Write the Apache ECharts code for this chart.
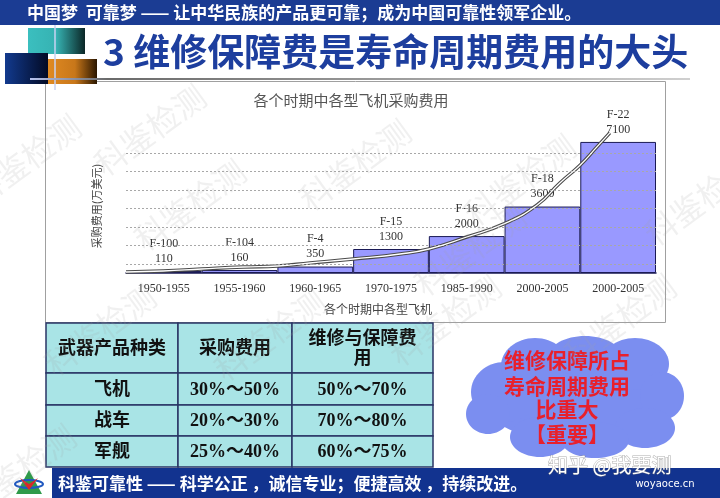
<!DOCTYPE html>
<html>
<head>
<meta charset="utf-8">
<script src="https://cdn.jsdelivr.net/npm/echarts@6/dist/echarts.min.js"></script>
<style>
  html, body { margin: 0; padding: 0; background: #fff; }
  #main { width: 720px; height: 498px; }
</style>
</head>
<body>
<div id="main"></div>
<script>
// 各个时期中各型飞机采购费用
const periods = ['1950-1955', '1955-1960', '1960-1965', '1970-1975', '1985-1990', '2000-2005', '2000-2005']
const models = ['F-100', 'F-104', 'F-4', 'F-15', 'F-16', 'F-18', 'F-22']
const costs = [110, 160, 350, 1300, 2000, 3600, 7100]
// 趋势线 (x 以类目宽度为单位)
const trendX = [0, 0.49, 1.0, 1.55, 2.0, 2.43, 3.0, 3.62, 4.0, 4.5, 4.99, 5.43, 5.73, 6.0, 6.22, 6.39]
const trendY = [54, 108, 217, 325, 380, 542, 759, 1030, 1300, 1950, 2656, 3686, 4878, 5854, 6829, 7588]
const gridValues = [500, 1500, 2500, 3500, 4500, 5500, 6500]

// 表格
const tableHeader = ['武器产品种类', '采购费用', '维修与保障费\n用']
const tableRows = [
  ['飞机', '30%～50%', '50%～70%'],
  ['战车', '20%～30%', '70%～80%'],
  ['军舰', '25%～40%', '60%～75%']
]
const cloudLines = ['维修保障所占', '寿命周期费用', '比重大', '【重要】']

const chart = echarts.init(document.getElementById('main'))

const cjk = '"Noto Sans CJK SC", sans-serif'
const serif = '"Liberation Serif", "Noto Sans CJK SC", serif'

// ---- 页面装饰 ----
const graphics = []

// 顶部横幅
graphics.push({
  type: 'rect', shape: { x: 0, y: 0, width: 720, height: 25 },
  style: { fill: '#1b3c93' }, z: 1
})
graphics.push({
  type: 'text', x: 27, y: 13,
  style: {
    text: '中国梦  可靠梦 —— 让中华民族的产品更可靠；成为中国可靠性领军企业。',
    fill: '#fff', font: 'bold 17px ' + cjk, verticalAlign: 'middle'
  }, z: 2
})

// 左上角方块
graphics.push({
  type: 'rect', shape: { x: 28, y: 28, width: 57, height: 26 },
  style: {
    fill: new echarts.graphic.LinearGradient(0, 0, 1, 0, [
      { offset: 0, color: '#3bbfbf' }, { offset: 0.5, color: '#36b2b2' }, { offset: 1, color: '#0b2626' }
    ])
  }, z: 1
})
graphics.push({
  type: 'rect', shape: { x: 48, y: 59, width: 49, height: 25 },
  style: {
    fill: new echarts.graphic.LinearGradient(0, 0, 1, 0, [
      { offset: 0, color: '#e08a22' }, { offset: 0.55, color: '#c8771a' }, { offset: 1, color: '#2a1600' }
    ])
  }, z: 1
})
graphics.push({
  type: 'rect', shape: { x: 5, y: 53, width: 43, height: 31 },
  style: {
    fill: new echarts.graphic.LinearGradient(0, 0, 1, 0, [
      { offset: 0, color: '#123a8e' }, { offset: 1, color: '#020a24' }
    ])
  }, z: 2
})
graphics.push({
  type: 'line', shape: { x1: 55, y1: 25, x2: 55, y2: 90 },
  style: { stroke: '#c9d2f2', lineWidth: 1.5 }, z: 3
})
graphics.push({
  type: 'line', shape: { x1: 30, y1: 79, x2: 690, y2: 79 },
  style: {
    stroke: new echarts.graphic.LinearGradient(0, 0, 1, 0, [
      { offset: 0, color: '#b8c4f0' }, { offset: 0.12, color: '#6a6a6a' }, { offset: 1, color: '#d0d0d0' }
    ]),
    lineWidth: 2
  }, z: 3
})

// 标题
graphics.push({
  type: 'text', x: 103, y: 52,
  style: {
    text: '3 维修保障费是寿命周期费用的大头',
    fill: '#1d3e9e', font: 'bold 37px ' + cjk, verticalAlign: 'middle'
  }, z: 2
})

// 图表框
graphics.push({
  type: 'rect', shape: { x: 45.5, y: 81.5, width: 620, height: 241 },
  style: { fill: '#fff', stroke: '#a0a0a0', lineWidth: 1 }, z: -10
})
graphics.push({
  type: 'text', x: 351, y: 100,
  style: { text: '各个时期中各型飞机采购费用', fill: '#555', font: '15px ' + cjk, align: 'center', verticalAlign: 'middle' }
})
graphics.push({
  type: 'text', x: 97, y: 206, rotation: Math.PI / 2,
  style: { text: '采购费用(万美元)', fill: '#444', font: '11px ' + cjk, align: 'center', verticalAlign: 'middle' }
})
graphics.push({
  type: 'text', x: 378, y: 309,
  style: { text: '各个时期中各型飞机', fill: '#444', font: '12px ' + cjk, align: 'center', verticalAlign: 'middle' }
})

// 表格
const colX = [46, 178, 292, 433]
const rowY = [323, 373, 405, 436, 467]
const allRows = [tableHeader].concat(tableRows)
allRows.forEach((row, r) => {
  row.forEach((cell, c) => {
    graphics.push({
      type: 'rect',
      shape: { x: colX[c], y: rowY[r], width: colX[c + 1] - colX[c], height: rowY[r + 1] - rowY[r] },
      style: { fill: '#a9e4e6', stroke: '#2a3566', lineWidth: 1.5 }, z: 5
    })
    graphics.push({
      type: 'text',
      x: (colX[c] + colX[c + 1]) / 2,
      y: (rowY[r] + rowY[r + 1]) / 2 + 1,
      style: {
        text: cell, fill: '#111', font: 'bold 18px ' + serif,
        align: 'center', verticalAlign: 'middle', lineHeight: 20
      }, z: 6
    })
  })
})

// 云朵
const cloudColor = '#7b8ef0'
const puffs = [
  [575, 400, 92, 42],
  [505, 392, 34, 30], [535, 366, 34, 28], [585, 356, 36, 20], [635, 364, 34, 26],
  [662, 396, 22, 24], [645, 428, 30, 20], [595, 440, 34, 18], [540, 437, 30, 20],
  [488, 414, 22, 20]
]
puffs.forEach(p => {
  graphics.push({
    type: 'ellipse', shape: { cx: p[0], cy: p[1], rx: p[2], ry: p[3] },
    style: { fill: cloudColor }, z: 5
  })
})
cloudLines.forEach((t, i) => {
  graphics.push({
    type: 'text', x: 567, y: [360, 386, 409, 434][i],
    style: { text: t, fill: '#e8202c', font: 'bold 21px ' + cjk, align: 'center', verticalAlign: 'middle' },
    z: 7
  })
})

// 底部横幅
graphics.push({
  type: 'rect', shape: { x: 52, y: 468, width: 668, height: 30 },
  style: { fill: '#12338f' }, z: 8
})
graphics.push({
  type: 'text', x: 58, y: 484,
  style: {
    text: '科鉴可靠性 —— 科学公正 ，诚信专业；便捷高效 ，持续改进。',
    fill: '#fff', font: 'bold 17px ' + cjk, verticalAlign: 'middle'
  }, z: 9
})
// 徽标
graphics.push({ type: 'polygon', shape: { points: [[16, 494], [29, 470], [42, 494]] }, style: { fill: '#2f9a4a' }, z: 9 })
graphics.push({ type: 'ellipse', shape: { cx: 29, cy: 484, rx: 14, ry: 4 }, style: { fill: 'none', stroke: '#2058c0', lineWidth: 2 }, z: 9 })
graphics.push({ type: 'polygon', shape: { points: [[20, 478], [29, 484], [38, 478], [29, 490]] }, style: { fill: '#d8282c' }, z: 10 })

// 知乎水印
graphics.push({
  type: 'text', x: 548, y: 465,
  style: { text: '知乎 @我要测', fill: '#fff', font: '20px ' + cjk, verticalAlign: 'middle', stroke: 'rgba(120,120,120,0.6)', lineWidth: 1 },
  z: 12
})
graphics.push({
  type: 'text', x: 665, y: 484,
  style: { text: 'woyaoce.cn', fill: '#fff', font: '10px "DejaVu Sans", sans-serif', align: 'center', verticalAlign: 'middle' },
  z: 12
})

// 科鉴检测 水印
const marks = [[25, 160], [190, 205], [355, 165], [520, 180], [700, 200], [100, 330], [270, 335], [445, 320], [620, 320], [20, 470], [470, 250], [150, 130]]
marks.forEach(m => {
  graphics.push({
    type: 'text', x: m[0], y: m[1], rotation: Math.PI / 5,
    style: { text: '科鉴检测', fill: 'rgba(160,160,160,0.16)', font: '32px ' + cjk, align: 'center', verticalAlign: 'middle' },
    z: 20
  })
})

const option = {
  animation: false,
  graphic: { elements: graphics },
  grid: { left: 126, right: 64, top: 105, bottom: 225 },
  xAxis: [
    {
      type: 'category',
      data: periods,
      axisLine: { lineStyle: { color: '#1a1a55', width: 1.5 } },
      axisTick: { show: false },
      axisLabel: { color: '#333', fontFamily: 'Liberation Serif', fontSize: 12, margin: 10, interval: 0 }
    },
    { type: 'value', min: 0, max: 7, show: false }
  ],
  yAxis: {
    type: 'value', min: 0, max: 9100,
    show: false,
    splitLine: { show: false }
  },
  series: [
    {
      type: 'bar',
      data: costs,
      barWidth: '100%',
      itemStyle: { color: '#9999ff', borderColor: '#1a1a55', borderWidth: 1 },
      label: {
        show: true,
        position: 'top',
        distance: 5,
        lineHeight: 15,
        color: '#333',
        fontFamily: 'Liberation Serif',
        fontSize: 12,
        formatter: p => models[p.dataIndex] + '\n' + costs[p.dataIndex]
      },
      markLine: {
        silent: true,
        symbol: 'none',
        label: { show: false },
        lineStyle: { color: '#a8a8a8', type: [2, 2], width: 1 },
        data: gridValues.map(v => ({ yAxis: v }))
      },
      z: 2
    },
    {
      type: 'line',
      xAxisIndex: 1,
      data: trendX.map((x, i) => [x, trendY[i]]),
      smooth: true,
      showSymbol: false,
      lineStyle: { color: '#4a4a4a', width: 3.5 },
      z: 4
    },
    {
      type: 'line',
      xAxisIndex: 1,
      data: trendX.map((x, i) => [x, trendY[i]]),
      smooth: true,
      showSymbol: false,
      lineStyle: { color: '#ffffff', width: 1.3 },
      z: 5
    }
  ]
}

chart.setOption(option)
</script>
</body>
</html>
